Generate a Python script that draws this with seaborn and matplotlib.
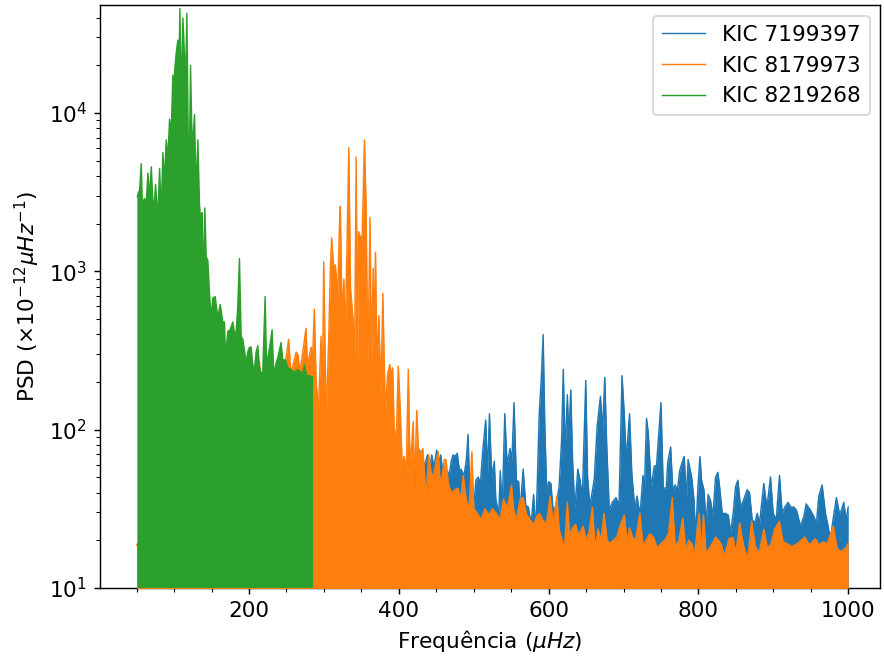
import numpy as np
import pandas as pd
import matplotlib
matplotlib.use("Agg")
import matplotlib.pyplot as plt
import seaborn as sns
from matplotlib.ticker import MultipleLocator

# ---- data (frequency in muHz, log10 of PSD) ----
names = ["KIC 7199397", "KIC 8179973", "KIC 8219268"]
colors = ["#1f77b4", "#ff7f0e", "#2ca02c"]

kic7199397_freq = [390, 397.6, 402, 407, 412, 418, 423, 428, 432, 436, 438.4, 441, 444, 447, 450.5,
                   454, 456, 459, 462, 465, 467, 470, 472.5, 475, 478, 481, 483, 487, 490, 492.5,
                   495, 498, 500, 503, 506, 509, 512, 516, 518.5, 521, 524, 527.5, 529.5, 531.5,
                   533.5, 535.5, 538, 541.5, 544.5, 548.5, 551, 553.8, 557, 560, 562, 566, 569.5,
                   573, 576.5, 580, 582.5, 584.5, 587.5, 590.3, 592.7, 595, 597.5, 600, 603, 606,
                   610, 614, 617.3, 619.6, 622, 625, 627, 629.6, 632, 635, 639, 642, 645, 649.6,
                   652, 655, 658, 661, 664.8, 669.2, 672, 675, 677.5, 681, 685, 690, 694, 698,
                   701, 703, 705, 708, 711, 715, 718, 722, 726, 728, 730.7, 733, 737, 741, 744,
                   747, 750, 753, 757, 759, 762.9, 766, 768.7, 772, 775, 778, 781, 784, 786.2,
                   790.9, 794, 796.2, 799.3, 802, 804.2, 807.3, 810.4, 813, 816.2, 819.3, 822.9,
                   826, 828.2, 831.8, 836.2, 839.8, 842.9, 846.4, 849.6, 852.7, 856.2, 860.7,
                   865.1, 868.2, 871.8, 875.3, 878.4, 881.6, 887.3, 890.4, 892.7, 896.2, 899.8,
                   903.8, 908.2, 911.8, 915.3, 919.8, 922.9, 927.3, 930.9, 936.2, 940.7, 943.8,
                   949.6, 954, 957.6, 960.7, 965.1, 969.6, 973.1, 976.2, 979.3, 984.2, 988.2,
                   990.9, 994, 997.1, 1000]
kic7199397_logpsd = [1.60, 1.68, 1.72, 1.82, 1.70, 1.78, 1.74, 1.87, 1.76, 1.80, 1.84, 1.74, 1.84,
                     1.76, 1.87, 1.80, 1.84, 1.72, 1.68, 1.74, 1.70, 1.80, 1.84, 1.83, 1.85, 1.74,
                     1.75, 1.71, 1.80, 1.97, 1.55, 1.68, 1.51, 1.68, 1.70, 1.66, 1.86, 2.06, 1.72,
                     2.10, 1.70, 1.80, 1.56, 1.51, 1.48, 1.74, 1.49, 2.10, 1.78, 1.88, 1.80, 2.17,
                     1.68, 1.67, 1.49, 1.75, 1.52, 1.51, 1.40, 1.59, 1.35, 1.60, 2.10, 2.33, 2.60,
                     2.00, 1.60, 1.67, 1.66, 1.49, 1.52, 1.64, 1.93, 2.38, 1.85, 2.22, 1.95, 2.25,
                     1.80, 1.50, 1.75, 1.68, 1.57, 2.31, 1.70, 1.52, 1.60, 1.69, 2.02, 2.21, 1.99,
                     2.33, 1.91, 1.49, 1.54, 1.57, 1.52, 2.34, 2.10, 1.87, 1.90, 2.10, 1.73, 1.50,
                     1.58, 1.46, 1.71, 1.63, 2.07, 1.98, 1.63, 1.77, 1.77, 1.97, 2.17, 1.63, 1.63,
                     1.79, 1.89, 1.60, 1.65, 1.62, 1.74, 1.79, 1.83, 1.56, 1.81, 1.70, 1.56, 1.32,
                     1.63, 1.83, 1.68, 1.62, 1.41, 1.59, 1.55, 1.45, 1.70, 1.73, 1.64, 1.47, 1.47,
                     1.46, 1.35, 1.47, 1.64, 1.68, 1.51, 1.56, 1.62, 1.60, 1.43, 1.41, 1.47, 1.41,
                     1.66, 1.54, 1.56, 1.70, 1.47, 1.43, 1.71, 1.47, 1.51, 1.54, 1.51, 1.51, 1.49,
                     1.39, 1.45, 1.53, 1.49, 1.45, 1.41, 1.58, 1.65, 1.47, 1.39, 1.30, 1.42, 1.57,
                     1.47, 1.49, 1.54, 1.43, 1.51]

kic8179973_freq = [50, 200, 214, 216, 230, 240, 248, 253, 256, 263, 265.6, 268, 276.2, 278, 282.9,
                   285, 287.3, 289.6, 292.7, 296.2, 298, 299.8, 303, 306.4, 308.7, 310.4, 313,
                   315.3, 318.4, 320.7, 322, 324.3, 326.7, 328.4, 331, 333.3, 335.6, 338.7, 341,
                   343.1, 345, 346.2, 348.4, 351.1, 354.2, 356.4, 358.7, 361.6, 363.5, 365.8, 367,
                   368.9, 371, 373.5, 376, 378.7, 382, 385, 388, 390, 391.8, 394, 397, 399.3, 402,
                   405, 407, 410, 412.7, 415, 419.3, 421, 424, 426, 429, 432, 435, 437, 440, 443,
                   446, 449, 452.7, 455, 458, 460.7, 463, 466, 470, 475, 479, 483, 486, 490, 494,
                   497.6, 500, 505, 510, 515, 520, 525, 530, 535, 540, 545, 550.4, 553, 557, 562,
                   566, 570, 575, 580, 584, 588, 592, 597, 602, 606, 611, 614, 618, 621, 625, 628,
                   632, 636, 640, 646, 650, 654, 658.4, 662, 666, 670, 674, 678, 682, 686, 691,
                   696, 701, 705, 708, 712, 716, 721.8, 726, 730, 735, 740, 745, 750, 755, 760,
                   765, 769, 774, 779, 783, 787, 791, 795, 801, 804, 806.7, 810, 815, 823, 830,
                   835, 840.7, 846, 850, 855, 860, 866, 871, 876, 881, 887.3, 892, 897, 901.7,
                   908, 913, 918, 925, 932, 942, 948, 956, 961, 966, 972, 980, 985, 990, 996.4,
                   1000]
kic8179973_logpsd = [1.27, 2.25, 2.43, 2.25, 2.30, 2.32, 2.40, 2.57, 2.35, 2.49, 2.47, 2.36, 2.64,
                     2.40, 2.52, 2.46, 2.76, 2.31, 2.11, 2.59, 2.20, 3.06, 2.05, 2.57, 3.02, 3.21,
                     3.03, 3.04, 2.84, 3.27, 3.41, 2.70, 2.95, 2.55, 3.19, 3.78, 2.89, 2.71, 2.46,
                     3.72, 2.40, 3.25, 3.22, 3.22, 3.83, 3.40, 2.40, 3.34, 2.40, 3.02, 2.55, 3.12,
                     2.40, 2.72, 2.20, 2.86, 2.10, 2.35, 2.41, 2.35, 2.39, 1.96, 2.00, 2.40, 2.12,
                     1.70, 1.83, 1.75, 2.38, 1.75, 2.05, 1.62, 2.12, 1.89, 1.84, 1.88, 1.68, 1.60,
                     1.84, 1.73, 1.70, 1.78, 1.86, 1.68, 1.70, 1.81, 1.81, 1.66, 1.60, 1.62, 1.63,
                     1.56, 1.71, 1.56, 1.50, 1.86, 1.50, 1.47, 1.43, 1.50, 1.46, 1.50, 1.47, 1.43,
                     1.56, 1.50, 1.65, 1.50, 1.43, 1.56, 1.57, 1.47, 1.43, 1.40, 1.45, 1.47, 1.43,
                     1.40, 1.58, 1.40, 1.58, 1.37, 1.30, 1.24, 1.54, 1.33, 1.38, 1.40, 1.33, 1.39,
                     1.30, 1.35, 1.51, 1.25, 1.37, 1.30, 1.47, 1.30, 1.28, 1.30, 1.32, 1.40, 1.46,
                     1.28, 1.38, 1.32, 1.30, 1.47, 1.26, 1.30, 1.34, 1.32, 1.25, 1.28, 1.30, 1.34,
                     1.57, 1.26, 1.30, 1.44, 1.24, 1.30, 1.28, 1.22, 1.47, 1.20, 1.46, 1.22, 1.25,
                     1.32, 1.28, 1.20, 1.31, 1.32, 1.22, 1.41, 1.27, 1.18, 1.42, 1.26, 1.22, 1.37,
                     1.25, 1.28, 1.37, 1.42, 1.29, 1.28, 1.26, 1.28, 1.32, 1.27, 1.31, 1.27, 1.29,
                     1.28, 1.39, 1.25, 1.23, 1.25, 1.28]

kic8219268_freq = [51, 52.5, 54, 56.2, 57.5, 58.4, 60.5, 62.9, 65.1, 67.3, 69.6, 71.8, 74, 75.3,
                   78.4, 80.7, 82.9, 85.1, 87.3, 89.6, 91.8, 94, 96.2, 98.4, 99.5, 100.7, 102.9,
                   105.1, 106.5, 107.8, 109.6, 111.8, 114, 115.5, 117.1, 119.8, 122, 124.2, 127.3,
                   129.6, 131.8, 134, 136.2, 137.5, 138.4, 141.1, 142.9, 145.1, 147.3, 149.6,
                   151.8, 154.9, 158.4, 161.6, 165.1, 167.3, 168.7, 171.8, 174.9, 178.4, 180.7,
                   182.9, 185.1, 187.3, 189.6, 191.8, 194, 196.2, 198.4, 200.7, 202.9, 205.1,
                   207.3, 209.6, 211.8, 214, 216, 218.4, 221.6, 223.5, 225.1, 227.3, 230.9, 233.1,
                   236.2, 238.9, 242.9, 245.1, 248.7, 251.8, 256.2, 260.7, 265, 267.3, 271.8, 274,
                   277.1, 280.7, 285.5]
kic8219268_logpsd = [3.47, 3.50, 3.51, 3.68, 3.45, 3.43, 3.46, 3.43, 3.62, 3.47, 3.66, 3.43, 3.45,
                     3.55, 3.34, 3.65, 3.37, 3.75, 3.58, 3.83, 3.71, 3.96, 3.87, 4.24, 4.00, 4.26,
                     4.38, 4.46, 4.25, 4.66, 4.08, 4.60, 4.36, 4.20, 4.63, 3.45, 4.30, 3.77, 3.99,
                     3.49, 3.83, 3.42, 3.28, 3.37, 2.90, 3.40, 3.09, 3.07, 2.86, 2.71, 2.83, 2.84,
                     2.71, 2.79, 2.68, 2.68, 2.46, 2.62, 2.63, 2.68, 2.61, 2.62, 2.78, 3.08, 2.59,
                     2.57, 2.50, 2.42, 2.49, 2.52, 2.52, 2.41, 2.38, 2.49, 2.53, 2.39, 2.36, 2.36,
                     2.84, 2.40, 2.45, 2.51, 2.63, 2.35, 2.42, 2.46, 2.55, 2.44, 2.44, 2.39, 2.38,
                     2.36, 2.38, 2.37, 2.35, 2.41, 2.34, 2.34, 2.33]

series_freq = [kic7199397_freq, kic8179973_freq, kic8219268_freq]
series_logpsd = [kic7199397_logpsd, kic8179973_logpsd, kic8219268_logpsd]

# ---- figure ----
plt.rcParams["font.family"] = ["DejaVu Sans"]
plt.rcParams["font.size"] = 12
plt.rcParams["axes.labelsize"] = 12
plt.rcParams["xtick.labelsize"] = 12
plt.rcParams["ytick.labelsize"] = 12
plt.rcParams["legend.fontsize"] = 12

fig, ax = plt.subplots(figsize=(6.8, 5.07), dpi=130)
fig.subplots_adjust(left=0.113, right=0.996, top=0.992, bottom=0.108)
ax.set_yscale("log")

for i, (name, f, lp, c) in enumerate(zip(names, series_freq, series_logpsd, colors)):
    df = pd.DataFrame({"freq": f, "psd": np.power(10.0, lp)})
    ax.fill_between(df["freq"], df["psd"], 1.0, color=c, lw=0, zorder=2 + 2 * i)
    sns.lineplot(data=df, x="freq", y="psd", color=c, lw=0.8, ax=ax,
                 label=name, estimator=None, sort=False, zorder=2.5 + 2 * i)

ax.set_ylim(10, 48000)
ax.set_xlim(1, 1043)
ax.xaxis.set_major_locator(MultipleLocator(200))
ax.xaxis.set_minor_locator(MultipleLocator(50))
ax.set_xlabel(r"Frequência ($\mu Hz$)")
ax.set_ylabel(r"PSD ($\times 10^{-12} \mu Hz^{-1}$)")
leg = ax.legend(loc="upper right")
leg.set_zorder(20)

fig.savefig("out.png", dpi=130)
